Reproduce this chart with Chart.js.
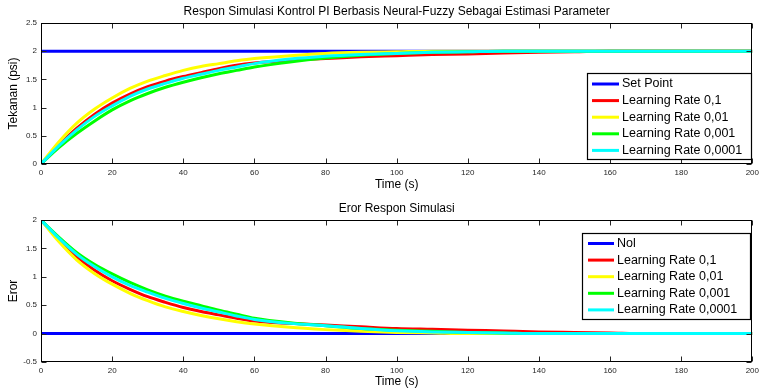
<!DOCTYPE html>
<html>
<head>
<meta charset="utf-8">
<script src="https://cdn.jsdelivr.net/npm/chart.js@4"></script>
<style>
  body { margin: 0; background: #fff; }
  canvas { position: absolute; left: 0; }
  #respChart { top: 0; }
  #errChart { top: 196px; }
</style>
</head>
<body>
<canvas id="respChart" width="763" height="196"></canvas>
<canvas id="errChart" width="763" height="195"></canvas>
<script>
// sample times (s)
const time = [0, 5, 10, 15, 20, 25, 30, 35, 40, 45, 50, 55, 60,
  70, 80, 90, 100, 110, 120, 130, 140, 150, 160, 170, 180, 190, 200];

// pressure response (psi)
const setPoint = [2, 2, 2, 2, 2, 2, 2, 2, 2, 2, 2, 2, 2,
  2, 2, 2, 2, 2, 2, 2, 2, 2, 2, 2, 2, 2, 2];
const respLr1 = [0, 0.33, 0.63, 0.88, 1.08, 1.24, 1.37, 1.47, 1.55, 1.62, 1.69, 1.75, 1.79,
  1.84, 1.87, 1.90, 1.92, 1.94, 1.95, 1.97, 1.98, 1.99, 2.00, 2.00, 2.00, 2.00, 2.00];
const respLr2 = [0, 0.39, 0.72, 0.97, 1.17, 1.34, 1.47, 1.57, 1.66, 1.73, 1.78, 1.83, 1.87,
  1.92, 1.96, 1.98, 1.99, 2.00, 2.00, 2.00, 2.00, 2.00, 2.00, 2.00, 2.00, 2.00, 2.00];
const respLr3 = [0, 0.29, 0.54, 0.76, 0.96, 1.12, 1.25, 1.36, 1.45, 1.53, 1.60, 1.66, 1.72,
  1.81, 1.88, 1.93, 1.96, 1.98, 1.99, 2.00, 2.00, 2.00, 2.00, 2.00, 2.00, 2.00, 2.00];
const respLr4 = [0, 0.32, 0.60, 0.84, 1.03, 1.20, 1.33, 1.43, 1.52, 1.59, 1.66, 1.72, 1.78,
  1.86, 1.91, 1.94, 1.96, 1.98, 1.99, 2.00, 2.00, 2.00, 2.00, 2.00, 2.00, 2.00, 2.00];

// error
const zeroLine = [0, 0, 0, 0, 0, 0, 0, 0, 0, 0, 0, 0, 0,
  0, 0, 0, 0, 0, 0, 0, 0, 0, 0, 0, 0, 0, 0];
const errLr1 = [2, 1.66, 1.36, 1.12, 0.93, 0.78, 0.65, 0.55, 0.46, 0.39, 0.33, 0.27, 0.22,
  0.18, 0.15, 0.12, 0.09, 0.075, 0.06, 0.045, 0.03, 0.02, 0.01, 0, 0, 0, 0];
const errLr2 = [2, 1.62, 1.30, 1.06, 0.87, 0.71, 0.58, 0.47, 0.39, 0.32, 0.26, 0.21, 0.17,
  0.11, 0.07, 0.04, 0.02, 0.01, 0, 0, 0, 0, 0, 0, 0, 0, 0];
const errLr3 = [2, 1.70, 1.43, 1.22, 1.05, 0.90, 0.77, 0.66, 0.57, 0.49, 0.41, 0.34, 0.27,
  0.19, 0.14, 0.09, 0.06, 0.04, 0.02, 0.01, 0, 0, 0, 0, 0, 0, 0];
const errLr4 = [2, 1.68, 1.40, 1.18, 1.00, 0.85, 0.73, 0.62, 0.53, 0.45, 0.38, 0.31, 0.25,
  0.18, 0.14, 0.09, 0.05, 0.03, 0.02, 0.01, 0, 0, 0, 0, 0, 0, 0];

const lrLabels = ["Learning Rate 0,1", "Learning Rate 0,01", "Learning Rate 0,001", "Learning Rate 0,0001"];
const lineColors = ["#0000ff", "#ff0000", "#ffff00", "#00ff00", "#00ffff"];

const xTicks = [0, 20, 40, 60, 80, 100, 120, 140, 160, 180, 200];
const respTicks = [0, 0.5, 1, 1.5, 2, 2.5];
const errTicks = [-0.5, 0, 0.5, 1, 1.5, 2];

const FONT = "'Liberation Sans', Arial, Helvetica, sans-serif";
Chart.defaults.font.family = FONT;
Chart.defaults.color = "#262626";

// box round the axes, inward tick marks, and a legend box inside the axes
const framePlugin = {
  id: "frame",
  afterDraw(chart, args, opts) {
    const { ctx, chartArea: a, scales } = chart;
    const L = Math.round(a.left) + 0.5, R = Math.round(a.right) - 0.5;
    const T = Math.round(a.top) + 0.5, B = Math.round(a.bottom) - 0.5;
    ctx.save();
    ctx.strokeStyle = "#262626";
    ctx.lineWidth = 1;
    ctx.beginPath();
    scales.x.ticks.forEach(t => {
      const px = Math.round(scales.x.getPixelForValue(t.value)) + 0.5;
      ctx.moveTo(px, B); ctx.lineTo(px, B - 5);
      ctx.moveTo(px, T); ctx.lineTo(px, T + 5);
    });
    scales.y.ticks.forEach(t => {
      const py = Math.round(scales.y.getPixelForValue(t.value)) + 0.5;
      ctx.moveTo(L, py); ctx.lineTo(L + 5, py);
      ctx.moveTo(R, py); ctx.lineTo(R - 5, py);
    });
    ctx.stroke();
    ctx.strokeStyle = "#000";
    ctx.strokeRect(L, T, R - L, B - T);

    // legend
    const lg = opts;
    ctx.fillStyle = "#fff";
    ctx.fillRect(lg.x, lg.y, lg.w, lg.h);
    ctx.strokeStyle = "#000";
    ctx.lineWidth = 1.2;
    ctx.strokeRect(lg.x + 0.5, lg.y + 0.5, lg.w, lg.h);
    ctx.font = "12.5px " + FONT;
    ctx.textBaseline = "middle";
    ctx.fillStyle = "#000";
    chart.data.datasets.forEach((ds, i) => {
      const cy = lg.row0 + i * lg.rowH;
      ctx.strokeStyle = ds.borderColor;
      ctx.lineWidth = 3;
      ctx.beginPath();
      ctx.moveTo(lg.line0, cy); ctx.lineTo(lg.line1, cy);
      ctx.stroke();
      ctx.fillText(ds.label, lg.textX, cy);
    });
    ctx.restore();
  }
};

function makeDatasets(labels, series) {
  return series.map((vals, i) => ({
    label: labels[i],
    data: time.map((t, k) => ({ x: t, y: vals[k] })),
    borderColor: lineColors[i],
    backgroundColor: lineColors[i],
    borderWidth: 3,
    pointRadius: 0,
    cubicInterpolationMode: "monotone",
    order: series.length - i
  }));
}

function makeChart(id, cfg) {
  return new Chart(document.getElementById(id), {
    type: "line",
    data: { datasets: makeDatasets(cfg.labels, cfg.series) },
    options: {
      responsive: false,
      animation: false,
      devicePixelRatio: 1,
      layout: { padding: { left: 0, right: 10, top: 0, bottom: 0 } },
      plugins: {
        legend: { display: false },
        tooltip: { enabled: false },
        title: {
          display: true,
          text: cfg.title,
          fullSize: false,
          color: "#000",
          font: { size: 12, weight: "normal" },
          padding: cfg.titlePad
        },
        frame: cfg.legend
      },
      scales: {
        x: {
          type: "linear",
          min: 0, max: 200,
          afterBuildTicks: s => { s.ticks = xTicks.map(v => ({ value: v })); },
          afterFit: s => { s.height = cfg.xAxisH; },
          grid: { display: false, drawTicks: false },
          border: { display: false },
          ticks: { font: { size: 8 }, padding: 4, maxRotation: 0 },
          title: {
            display: true, text: "Time (s)", color: "#000",
            font: { size: 12 }, padding: { top: 0, bottom: cfg.xTitlePad }
          }
        },
        y: {
          min: cfg.yMin, max: cfg.yMax,
          afterBuildTicks: s => { s.ticks = cfg.yTicks.map(v => ({ value: v })); },
          afterFit: s => { s.width = 41; },
          grid: { display: false, drawTicks: false },
          border: { display: false },
          ticks: { font: { size: 8 }, padding: 4, callback: v => String(v) },
          title: {
            display: true, text: cfg.yTitle, color: "#000",
            font: { size: 12 }, padding: { top: 6, bottom: 0 }
          }
        }
      }
    },
    plugins: [framePlugin]
  });
}

makeChart("respChart", {
  title: "Respon Simulasi Kontrol PI Berbasis Neural-Fuzzy Sebagai Estimasi Parameter",
  titlePad: { top: 4.5, bottom: 4.1 },
  labels: ["Set Point"].concat(lrLabels),
  series: [setPoint, respLr1, respLr2, respLr3, respLr4],
  yTitle: "Tekanan (psi)",
  yMin: 0, yMax: 2.5, yTicks: respTicks,
  xAxisH: 32, xTitlePad: 4.3,
  legend: { x: 587, y: 73, w: 164, h: 86, row0: 84, rowH: 16.6, line0: 592, line1: 619, textX: 622 }
});

makeChart("errChart", {
  title: "Eror Respon Simulasi",
  titlePad: { top: 5.8, bottom: 3.8 },
  labels: ["Nol"].concat(lrLabels),
  series: [zeroLine, errLr1, errLr2, errLr3, errLr4],
  yTitle: "Eror",
  yMin: -0.5, yMax: 2, yTicks: errTicks,
  xAxisH: 29, xTitlePad: 2.1,
  legend: { x: 582, y: 37, w: 168, h: 86, row0: 47.5, rowH: 16.6, line0: 588, line1: 614, textX: 617 }
});
</script>
</body>
</html>
